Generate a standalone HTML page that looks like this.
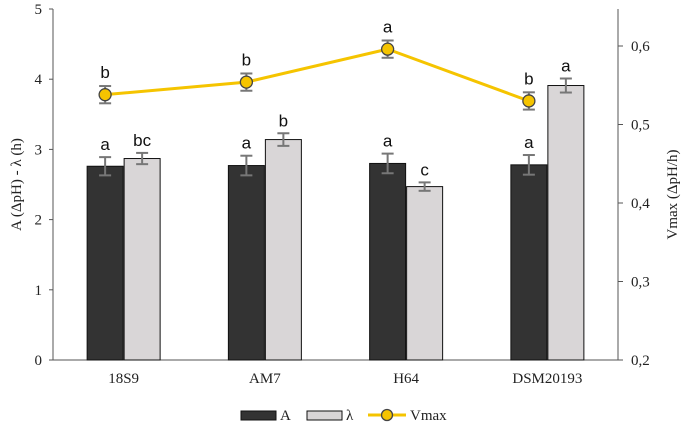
<!DOCTYPE html>
<html><head><meta charset="utf-8"><style>
body{margin:0;background:#fff;}
svg{display:block;}
.t{font-family:"Liberation Serif",serif;font-size:15px;fill:#222;}
.l{font-family:"Liberation Sans",sans-serif;font-size:17px;fill:#111;}
</style></head><body>
<svg id="c" width="688" height="424"></svg>
<script>
const categories=["18S9","AM7","H64","DSM20193"];
const valA=[2.76,2.77,2.80,2.78];
const errA=[0.13,0.14,0.14,0.14];
const letA=["a","a","a","a"];
const valL=[2.87,3.14,2.47,3.91];
const errL=[0.08,0.09,0.06,0.10];
const letL=["bc","b","c","a"];
const valV=[0.538,0.554,0.596,0.530];
const errV=[0.011,0.011,0.011,0.011];
const letV=["b","b","a","b"];
const leftTicks=[0,1,2,3,4,5];
const rightTicks=[0.2,0.3,0.4,0.5,0.6];

const svg=document.getElementById('c');
const NS="http://www.w3.org/2000/svg";
const X0=53,X1=618,Y0=360,Y1=9;
const yL=v=>Y0-(v/5)*(Y0-Y1);
const yR=v=>Y0-(v-0.2)/0.1*78.5;
const gw=(X1-X0)/categories.length;
const xc=i=>X0+gw*(i+0.5);
function mk(tag,at,parent){const e=document.createElementNS(NS,tag);for(const k in at)e.setAttribute(k,at[k]);(parent||svg).appendChild(e);return e;}
function txt(s,at){const e=mk('text',at);e.textContent=s;return e;}

let ax=mk('line',{x1:X0,y1:Y1,x2:X0,y2:Y0,stroke:'#555'});

ax=mk('line',{x1:X1,y1:Y1,x2:X1,y2:Y0,stroke:'#555'});

ax=mk('line',{x1:X0,y1:Y0,x2:X1,y2:Y0,stroke:'#555'});

leftTicks.forEach(v=>{mk('line',{x1:X0-4,x2:X0,y1:yL(v),y2:yL(v),stroke:'#555'});
 const t=txt(v,{x:X0-11,y:yL(v)+5,'text-anchor':'end',class:'t'});
 });
rightTicks.forEach(v=>{mk('line',{x1:X1,x2:X1+5,y1:yR(v),y2:yR(v),stroke:'#555'});
 const t=txt(v.toFixed(1).replace('.',','),{x:X1+13,y:yR(v)+5,class:'t'});
 });
categories.forEach((c,i)=>{const t=txt(c,{x:xc(i),y:Y0+23,'text-anchor':'middle',class:'t'});
 });
let at=txt('A (ΔpH) - λ (h)',{x:0,y:0,'text-anchor':'middle',class:'t',transform:`translate(21,${(Y0+Y1)/2}) rotate(-90)`});

at=txt('Vmax (ΔpH/h)',{x:0,y:0,'text-anchor':'middle',class:'t',transform:`translate(677,${(Y0+Y1)/2+10}) rotate(-90)`});


function err(x,y1,y2,w){mk('line',{x1:x,x2:x,y1:y1,y2:y2,stroke:'#777','stroke-width':2});
 mk('line',{x1:x-w,x2:x+w,y1:y1,y2:y1,stroke:'#777','stroke-width':2});
 mk('line',{x1:x-w,x2:x+w,y1:y2,y2:y2,stroke:'#777','stroke-width':2});}
const BW=36;
categories.forEach((c,i)=>{
 const xa=xc(i)-BW-0.5,xl=xc(i)+0.5;
 let b=mk('rect',{x:xa,y:yL(valA[i]),width:BW,height:Y0-yL(valA[i]),fill:'#333',stroke:'#111'});
 
 b=mk('rect',{x:xl,y:yL(valL[i]),width:BW,height:Y0-yL(valL[i]),fill:'#d9d6d7',stroke:'#111'});
 
 err(xa+BW/2,yL(valA[i]+errA[i]),yL(valA[i]-errA[i]),6);
 err(xl+BW/2,yL(valL[i]+errL[i]),yL(valL[i]-errL[i]),6);
 let t=txt(letA[i],{x:xa+BW/2,y:yL(valA[i]+errA[i])-7,'text-anchor':'middle',class:'l'});
 
 t=txt(letL[i],{x:xl+BW/2,y:yL(valL[i]+errL[i])-7,'text-anchor':'middle',class:'l'});
 
});
const vx=i=>xc(i)-BW/2-0.5;
let ln=mk('polyline',{points:valV.map((v,i)=>vx(i)+','+yR(v)).join(' '),fill:'none',stroke:'#f5c400','stroke-width':3});

valV.forEach((v,i)=>{err(vx(i),yR(v+errV[i]),yR(v-errV[i]),6);
 const p=mk('circle',{cx:vx(i),cy:yR(v),r:6,fill:'#f5c400',stroke:'#444','stroke-width':1.3});
 
 const t=txt(letV[i],{x:vx(i),y:yR(v+errV[i])-8,'text-anchor':'middle',class:'l'});
 });

const lg=mk('g',{});
mk('rect',{x:241,y:411,width:35,height:9,fill:'#333',stroke:'#111'},lg);
let e=txt('A',{x:280,y:420,class:'t'});
mk('rect',{x:307,y:411,width:35,height:9,fill:'#d9d6d7',stroke:'#111'},lg);
e=txt('λ',{x:346,y:420,class:'t'});
mk('line',{x1:368,x2:406,y1:415,y2:415,stroke:'#f5c400','stroke-width':3},lg);
mk('circle',{cx:387,cy:415,r:5.5,fill:'#f5c400',stroke:'#444','stroke-width':1.3},lg);
e=txt('Vmax',{x:410,y:420,class:'t'});
</script>
</body></html>
